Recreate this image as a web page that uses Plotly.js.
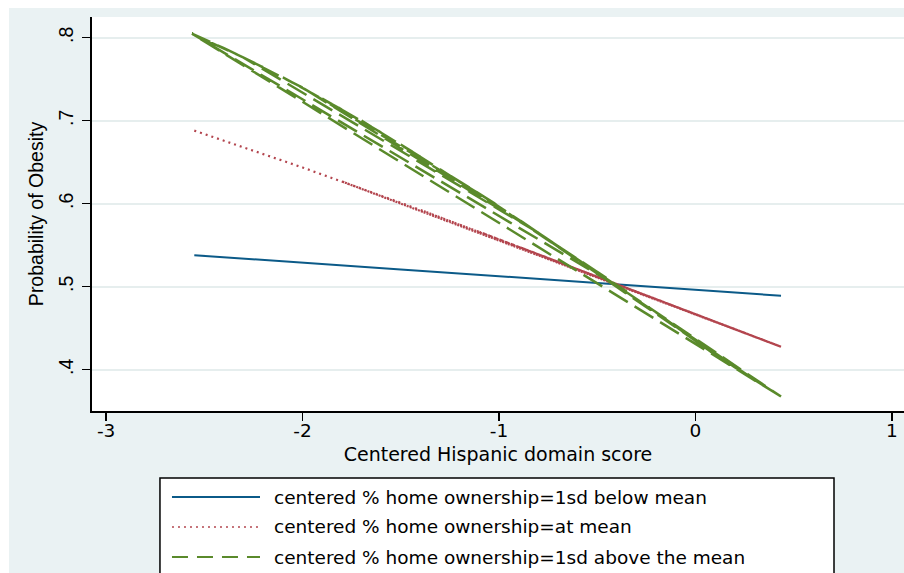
<!DOCTYPE html>
<html><head><meta charset="utf-8">
<script src="https://cdn.plot.ly/plotly-3.0.1.min.js"></script>
<style>
html,body{margin:0;padding:0;background:#ffffff;overflow:hidden;width:904px;height:573px}
#chart{position:absolute;left:9px;top:8px;width:895px;height:565px}
</style>
</head><body><div id="chart"></div>
<script>
// Series 1: centered % home ownership = 1sd below mean
const blueX = [-2.551, -1.5, -0.5, 0.436];
const blueY = [0.538, 0.5208, 0.5045, 0.489];

// Series 2: centered % home ownership = at mean (unsorted data, retraced)
const redX = [-2.551, -2.0, -1.5, -1.0, -0.5, 0.0, 0.436, -1.8, 0.436, -1.4, 0.436, -1.1, 0.436, -0.9, 0.436, -0.7, 0.436, -0.5, 0.436];
const redY = [0.688, 0.6436, 0.6011, 0.557, 0.5119, 0.4667, 0.4276, 0.6268, 0.4276, 0.5925, 0.4276, 0.566, 0.4276, 0.548, 0.4276, 0.530, 0.4276, 0.5119, 0.4276];

// Series 3: centered % home ownership = 1sd above the mean (unsorted data)
const greenX = [0.436, -2.563, -2.40, -2.20, -2.30, -2.00, -2.10, -1.80, -1.90, -1.60, -1.70, -1.40, -1.50, -1.20, -1.30, -1.00, -1.10, -0.80, -0.90, -0.60, -0.70, -0.45, -0.50, -0.35, -2.563, -2.30, -0.80, -2.00, -1.10, -0.60, 0.00, -0.20, 0.10, -0.10, 0.20, 0.436, -0.80, 0.30, 0.436];
const greenY = [0.3676, 0.8048, 0.7873, 0.7643, 0.776, 0.7397, 0.7522, 0.7134, 0.7267, 0.6857, 0.700, 0.6565, 0.6713, 0.6261, 0.6415, 0.597, 0.612, 0.565, 0.581, 0.532, 0.549, 0.510, 0.518, 0.494, 0.8048, 0.776, 0.565, 0.7397, 0.612, 0.532, 0.435, 0.469, 0.418, 0.452, 0.403, 0.3676, 0.565, 0.388, 0.3676];

const legendLabels = [
  'centered % home ownership=1sd below mean',
  'centered % home ownership=at mean',
  'centered % home ownership=1sd above the mean'
];
const xTickVals = [-3, -2, -1, 0, 1];
const xTickText = ['-3', '-2', '-1', '0', '1'];
const yTickVals = [0.4, 0.5, 0.6, 0.7, 0.8];
const yTickText = ['.4', '.5', '.6', '.7', '.8'];
const xTitle = 'Centered Hispanic domain score';
const yTitle = 'Probability of Obesity';

const colors = ['#0b5a88', '#b3454e', '#5a8a2b'];
const dashes = ['solid', '2px,4px', '22px,8px'];
const widths = [2, 2.2, 2.5];

const traces = [
  {x: blueX, y: blueY, name: legendLabels[0], mode: 'lines', line: {color: colors[0], width: widths[0], dash: dashes[0], simplify: false}},
  {x: redX, y: redY, name: legendLabels[1], mode: 'lines', line: {color: colors[1], width: widths[1], dash: dashes[1], simplify: false}},
  {x: greenX, y: greenY, name: legendLabels[2], mode: 'lines', line: {color: colors[2], width: widths[2], dash: dashes[2], simplify: false}}
];

const hFont = {family: 'DejaVu Sans', size: 18.5, color: '#000'};
const vFont = {family: 'Liberation Sans, Arial', size: 19.5, color: '#000'};

const legY = [-0.2183, -0.2944, -0.3706];
const shapes = [
  {type: 'rect', xref: 'paper', yref: 'paper', x0: 0.0837, x1: 0.9138, y0: -0.46, y1: -0.170,
   line: {color: '#000', width: 1.5}, fillcolor: '#ffffff', layer: 'above'}
];
const annotations = [];
legendLabels.forEach((lab, i) => {
  shapes.push({type: 'line', xref: 'paper', yref: 'paper', x0: 0.0985, x1: 0.2069, y0: legY[i], y1: legY[i],
    line: {color: colors[i], width: i === 1 ? 1.5 : 2, dash: i === 2 ? '16px,9px' : dashes[i]}});
  annotations.push({xref: 'paper', yref: 'paper', x: 0.2217, y: legY[i], text: lab, showarrow: false,
    xanchor: 'left', yanchor: 'middle', font: hFont});
});

const layout = {
  width: 895, height: 565,
  margin: {l: 83, r: 0, t: 9, b: 162, pad: 0},
  paper_bgcolor: '#eaf2f3',
  plot_bgcolor: '#ffffff',
  showlegend: false,
  xaxis: {
    range: [-3.0718, 1.0621], tickmode: 'array', tickvals: xTickVals, ticktext: xTickText,
    ticks: 'outside', ticklen: 8, tickwidth: 1.5, tickcolor: '#000',
    showline: true, linecolor: '#000', linewidth: 2, showgrid: false, zeroline: false,
    tickfont: hFont, ticklabelstandoff: -6,
    title: {text: xTitle, font: {family: 'DejaVu Sans', size: 19, color: '#000'}, standoff: 7}
  },
  yaxis: {
    range: [0.3502, 0.8249], tickmode: 'array', tickvals: yTickVals, ticktext: yTickText,
    tickangle: -90, ticks: 'outside', ticklen: 8, tickwidth: 1.5, tickcolor: '#000',
    showline: true, linecolor: '#000', linewidth: 2,
    showgrid: true, gridcolor: '#e6eeee', gridwidth: 2, zeroline: false,
    tickfont: vFont, ticklabelstandoff: 1,
    title: {text: yTitle, font: vFont, standoff: 6}
  },
  shapes: shapes,
  annotations: annotations
};

Plotly.newPlot('chart', traces, layout, {displayModeBar: false, staticPlot: true});
</script>
</body></html>
